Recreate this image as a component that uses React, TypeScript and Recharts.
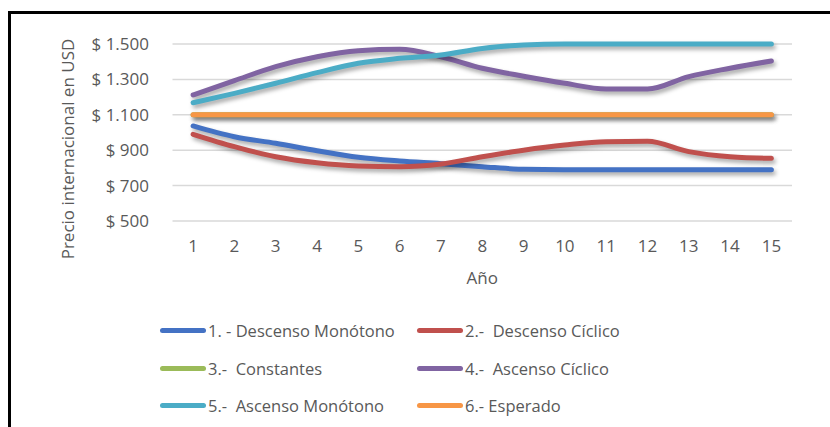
import { LineChart, Line, XAxis, YAxis, CartesianGrid } from "recharts";

const years = ["1", "2", "3", "4", "5", "6", "7", "8", "9", "10", "11", "12", "13", "14", "15"];

const descensoMonotono = [1037, 976, 939, 897, 860, 839, 824, 807, 792, 790, 790, 790, 790, 790, 790];
const descensoCiclico = [990, 920, 863, 829, 811, 807, 822, 863, 900, 929, 948, 950, 892, 863, 854];
const constantes = [1100, 1100, 1100, 1100, 1100, 1100, 1100, 1100, 1100, 1100, 1100, 1100, 1100, 1100, 1100];
const ascensoCiclico = [1212, 1293, 1372, 1428, 1462, 1470, 1428, 1363, 1318, 1278, 1246, 1246, 1316, 1363, 1404];
const ascensoMonotono = [1168, 1221, 1278, 1338, 1391, 1419, 1438, 1475, 1494, 1500, 1500, 1500, 1500, 1500, 1500];
const esperado = [1100, 1100, 1100, 1100, 1100, 1100, 1100, 1100, 1100, 1100, 1100, 1100, 1100, 1100, 1100];

const yTicks = [500, 700, 900, 1100, 1300, 1500];

const series = [
  { key: "s1", name: "1. - Descenso Monótono", values: descensoMonotono, color: "#4472C4" },
  { key: "s2", name: "2.-  Descenso Cíclico", values: descensoCiclico, color: "#C0504D" },
  { key: "s3", name: "3.-  Constantes", values: constantes, color: "#9BBB59" },
  { key: "s4", name: "4.-  Ascenso Cíclico", values: ascensoCiclico, color: "#8064A2" },
  { key: "s5", name: "5.-  Ascenso Monótono", values: ascensoMonotono, color: "#4BACC6" },
  { key: "s6", name: "6.- Esperado", values: esperado, color: "#F79646" },
];

const data = years.map((y, i) => {
  const row: Record<string, string | number> = { year: y };
  series.forEach((s) => (row[s.key] = s.values[i]));
  return row;
});

const FONT = "'Open Sans', sans-serif";
const TEXT = "#595959";

function fmtUsd(v: number) {
  return `$ ${String(v).replace(/\B(?=(\d{3})+(?!\d))/g, ".")}`;
}

// legend slots: two columns, three rows
const legendCols = [160, 417];
const legendRows = [330, 368, 405];

export default function App() {
  return (
    <div style={{ position: "fixed", left: 0, top: 0, width: 830, height: 427, overflow: "hidden", background: "#fff" }}>
      <style>{`.recharts-line-curve { filter: drop-shadow(2px 3px 2px rgba(0,0,0,0.35)); }`}</style>
      <div
        style={{
          position: "absolute",
          left: 8,
          top: 11,
          width: 840,
          height: 440,
          borderTop: "3px solid #000",
          borderLeft: "3px solid #000",
        }}
      />
      <div style={{ position: "absolute", left: 0, top: 0 }}>
        <LineChart width={830} height={427} data={data} margin={{ top: 44, right: 38, bottom: 146, left: 62.5 }}>
          <CartesianGrid vertical={false} stroke="#d9d9d9" strokeWidth={1.5} />
          <XAxis
            dataKey="year"
            axisLine={false}
            tickLine={false}
            height={60}
            padding={{ left: 20.6, right: 20.6 }}
            tickMargin={13}
            tick={{ fill: TEXT, fontSize: 17, fontFamily: FONT }}
            interval={0}
            label={{
              content: ({ viewBox }: any) => (
                <text x={viewBox.x + viewBox.width / 2} y={284} textAnchor="middle" fill={TEXT} fontSize={17} fontFamily={FONT}>
                  Año
                </text>
              ),
            }}
          />
          <YAxis
            domain={[500, 1500]}
            ticks={yTicks}
            axisLine={false}
            tickLine={false}
            width={110}
            tickMargin={17.5}
            tickFormatter={fmtUsd}
            tick={{ fill: TEXT, fontSize: 17, fontFamily: FONT }}
            label={{
              content: () => (
                <text
                  x={74}
                  y={149}
                  transform="rotate(-90 74 149)"
                  textAnchor="middle"
                  fill={TEXT}
                  fontSize={17}
                  fontFamily={FONT}
                >
                  Precio internacional en USD
                </text>
              ),
            }}
          />
          {series.map((s) => (
            <Line
              key={s.key}
              type="monotone"
              dataKey={s.key}
              name={s.name}
              stroke={s.color}
              strokeWidth={5}
              strokeLinecap="round"
              dot={false}
              isAnimationActive={false}
            />
          ))}
        </LineChart>
      </div>
      {series.map((s, i) => {
        const x = legendCols[i % 2];
        const y = legendRows[Math.floor(i / 2)];
        return (
          <div key={s.key} style={{ position: "absolute", left: x, top: y - 12, height: 24, display: "flex", alignItems: "center" }}>
            <div style={{ width: 46, height: 5, borderRadius: 3, background: s.color, marginRight: 2 }} />
            <span style={{ fontFamily: FONT, fontSize: 16.5, color: TEXT, whiteSpace: "pre" }}>{s.name}</span>
          </div>
        );
      })}
    </div>
  );
}
